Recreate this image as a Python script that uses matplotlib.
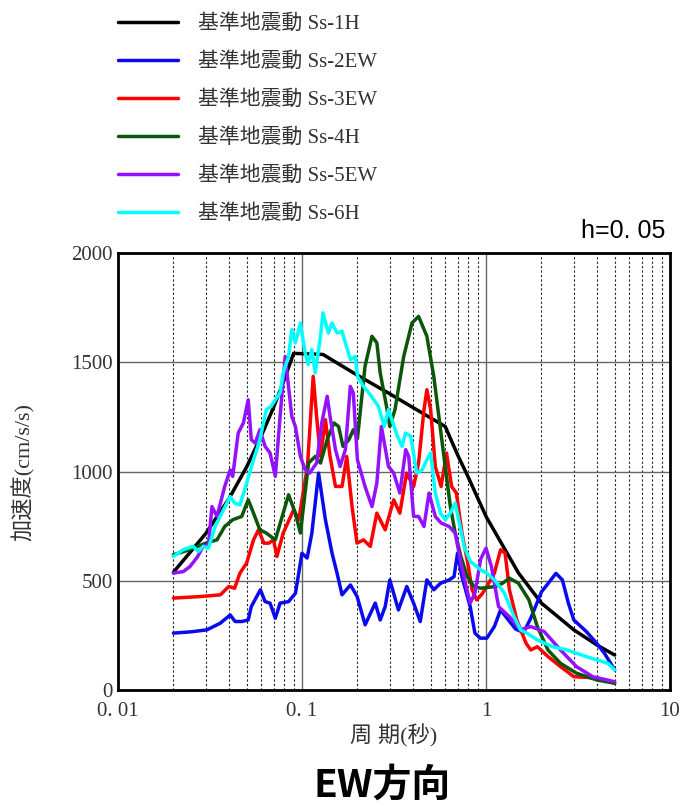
import matplotlib
matplotlib.use("Agg")
import matplotlib.pyplot as plt
from matplotlib.ticker import FixedLocator, FixedFormatter, LogLocator

# fonts: serif for numbers, CJK fallback for the Japanese glyphs
SERIF_JP = ["Liberation Serif", "Noto Sans CJK JP"]
SANS_JP = ["Noto Sans CJK JP", "DejaVu Sans"]

# Ss-1H (design spectrum)
T1 = [0.02, 0.03, 0.04, 0.05, 0.06, 0.07, 0.08, 0.09, 0.13, 0.2, 0.3, 0.4, 0.5, 0.6,
      0.7, 0.8, 1.0, 1.5, 2.0, 3.0, 4.0, 5.0]
A1 = [540, 717, 875, 1021, 1162, 1293, 1419, 1540, 1535, 1440, 1355, 1293, 1245, 1206,
      1077, 975, 795, 537, 399, 277, 208, 162]

# Ss-2EW
T2 = [0.02, 0.025, 0.0304, 0.0359, 0.0407, 0.0433, 0.047, 0.051, 0.053, 0.0594, 0.063,
      0.067, 0.0716, 0.076, 0.0845, 0.0921, 0.0999, 0.1066, 0.1131, 0.123, 0.134, 0.1456,
      0.155, 0.165, 0.1834, 0.1993, 0.2203, 0.25, 0.266, 0.283, 0.3, 0.334, 0.371, 0.404,
      0.439, 0.477, 0.52, 0.566, 0.63, 0.67, 0.70, 0.74, 0.82, 0.87, 0.93, 1.01, 1.11,
      1.2, 1.3, 1.45, 1.6, 1.75, 2.0, 2.4, 2.6, 2.8, 3.0, 3.5, 4.0, 4.4, 5.0]
A2 = [262, 268, 277, 307, 345, 315, 315, 322, 383, 460, 406,
      399, 330, 399, 406, 444, 627, 605, 719, 993, 780, 627,
      536, 437, 482, 429, 300, 399, 322, 383, 505, 368, 475, 399,
      315, 505, 460, 490, 505, 520, 627, 520, 383, 262, 239, 239, 292,
      368, 330, 280, 265, 330, 450, 535, 505, 400, 322, 270, 215, 170, 94]

# Ss-3EW
T3 = [0.02, 0.028, 0.036, 0.04, 0.043, 0.046, 0.05, 0.0545, 0.058, 0.062, 0.066, 0.07,
      0.073, 0.079, 0.09, 0.096, 0.107, 0.115, 0.12, 0.126, 0.134, 0.142, 0.152, 0.165,
      0.175, 0.187, 0.199, 0.216, 0.235, 0.255, 0.283, 0.315, 0.34, 0.37, 0.404, 0.43,
      0.46, 0.477, 0.50, 0.53, 0.57, 0.61, 0.65, 0.69, 0.74, 0.79, 0.84, 0.89, 0.95,
      1.01, 1.11, 1.2, 1.27, 1.34, 1.47, 1.65, 1.75, 1.9, 2.17, 2.54, 3.0, 4.0, 5.0]
A3 = [422, 429, 437, 475, 467, 536, 582, 688, 734, 673, 673, 688,
      612, 719, 825, 780, 1023, 1435, 1252, 1069, 1237, 1069, 932, 932,
      1069, 840, 673, 688, 658, 810, 734, 871, 810, 993, 932, 1039,
      1283, 1374, 1283, 1023, 932, 1085, 932, 902, 719, 597, 460, 414, 440,
      475, 536, 643, 627, 460, 322, 216, 185, 200, 155, 109, 63, 57, 33]

# Ss-4H
T4 = [0.02, 0.0245, 0.03, 0.0345, 0.038, 0.042, 0.047, 0.051, 0.0545, 0.059, 0.064,
      0.0716, 0.0845, 0.092, 0.098, 0.1085, 0.118, 0.126, 0.137, 0.149, 0.158, 0.167,
      0.18, 0.19, 0.2, 0.22, 0.24, 0.255, 0.266, 0.29, 0.3, 0.32, 0.357, 0.396, 0.43,
      0.477, 0.52, 0.566, 0.6, 0.64, 0.68, 0.73, 0.79, 0.86, 0.935, 1.13, 1.23, 1.34,
      1.5, 1.71, 1.9, 2.17, 2.54, 3.1, 4.0, 5.0]
A4 = [620, 643, 673, 688, 749, 780, 795, 871, 810, 734, 719,
      688, 894, 810, 719, 1039, 1069, 1039, 1146, 1222, 1206, 1115,
      1146, 1191, 1150, 1481, 1618, 1588, 1451, 1283, 1206, 1283, 1526, 1679, 1709,
      1618, 1435, 1191, 1023, 840, 719, 612, 520, 475, 467, 475, 490, 513,
      490, 414, 292, 185, 124, 79, 48, 33]

# Ss-5EW
T5 = [0.02, 0.0226, 0.0246, 0.027, 0.029, 0.031, 0.0324, 0.0345, 0.038, 0.0407, 0.042,
      0.045, 0.048, 0.051, 0.053, 0.0557, 0.059, 0.063, 0.067, 0.0716, 0.076, 0.081,
      0.088, 0.092, 0.098, 0.104, 0.11, 0.12, 0.128, 0.137, 0.142, 0.152, 0.161, 0.172,
      0.183, 0.19, 0.2, 0.22, 0.24, 0.255, 0.27, 0.295, 0.315, 0.34, 0.366, 0.38, 0.404,
      0.43, 0.46, 0.49, 0.53, 0.57, 0.63, 0.68, 0.73, 0.78, 0.82, 0.87, 0.935, 1.0, 1.07,
      1.17, 1.34, 1.54, 1.75, 2.07, 2.54, 3.1, 3.8, 5.0]
A5 = [536, 543, 566, 610, 658, 665, 840, 795, 932, 1008, 978,
      1176, 1222, 1328, 1146, 1130, 1191, 1115, 1085, 978, 1252, 1526,
      1252, 1206, 1069, 1008, 993, 1039, 1222, 1344, 1252, 1100, 1023, 1100,
      1389, 1359, 1054, 932, 840, 947, 1206, 1023, 993, 902, 1100, 1069, 795,
      795, 749, 902, 795, 765, 749, 719, 582, 475, 399, 444, 600, 650, 566,
      383, 337, 277, 292, 269, 185, 109, 63, 40]

# Ss-6H
T6 = [0.02, 0.0226, 0.0256, 0.0273, 0.029, 0.031, 0.0337, 0.0374, 0.0407, 0.043, 0.046,
      0.05, 0.0545, 0.059, 0.064, 0.068, 0.0716, 0.076, 0.079, 0.0845, 0.088, 0.092,
      0.098, 0.104, 0.108, 0.113, 0.118, 0.126, 0.13, 0.139, 0.1456, 0.155, 0.165, 0.172,
      0.1834, 0.195, 0.2, 0.216, 0.235, 0.26, 0.28, 0.295, 0.33, 0.35, 0.365, 0.39, 0.42,
      0.45, 0.477, 0.5, 0.53, 0.566, 0.6, 0.64, 0.68, 0.71, 0.76, 0.82, 0.935, 1.01,
      1.11, 1.26, 1.42, 1.54, 1.67, 1.9, 2.3, 2.75, 3.5, 4.6, 5.0]
A6 = [612, 643, 658, 635, 658, 650, 749, 825, 886, 856, 848,
      947, 1054, 1146, 1283, 1298, 1328, 1360, 1451, 1526, 1649, 1588,
      1679, 1542, 1489, 1557, 1451, 1618, 1725, 1633, 1679, 1633, 1641, 1588,
      1511, 1526, 1435, 1389, 1351, 1298, 1206, 1283, 1161, 1115, 1176, 1161, 993,
      1008, 1054, 1085, 902, 810, 780, 810, 856, 780, 658, 590, 551, 536,
      505, 444, 337, 277, 262, 231, 200, 185, 155, 124, 94]

SERIES = [
    ("基準地震動 Ss-1H", T1, A1, "#000000"),
    ("基準地震動 Ss-2EW", T2, A2, "#0a0aee"),
    ("基準地震動 Ss-3EW", T3, A3, "#ff0000"),
    ("基準地震動 Ss-4H", T4, A4, "#0b560b"),
    ("基準地震動 Ss-5EW", T5, A5, "#9412ff"),
    ("基準地震動 Ss-6H", T6, A6, "#00ffff"),
]

X_TICKS = [0.01, 0.1, 1, 10]
X_TICK_LABELS = ["0. 01", "0. 1", "1", "10"]
Y_TICKS = [0, 500, 1000, 1500, 2000]
Y_TICK_LABELS = ["0", "500", "1000", "1500", "2000"]

fig = plt.figure(figsize=(6.81, 8.07), dpi=100)
ax = fig.add_axes([0.1733, 0.1444, 0.8106, 0.5425])

handles = []
for label, t, a, color in SERIES:
    line, = ax.plot(t, a, color=color, lw=2.5, label=label, solid_capstyle="round")
    handles.append(line)

ax.set_xscale("log")
ax.set_xlim(0.01, 10)
ax.set_ylim(0, 2000)

# ticks and grid
ax.xaxis.set_major_locator(FixedLocator(X_TICKS))
ax.xaxis.set_major_formatter(FixedFormatter(X_TICK_LABELS))
ax.xaxis.set_minor_locator(LogLocator(base=10, subs=range(2, 10)))
ax.xaxis.set_minor_formatter(FixedFormatter([]))
ax.yaxis.set_major_locator(FixedLocator(Y_TICKS))
ax.yaxis.set_major_formatter(FixedFormatter(Y_TICK_LABELS))
ax.tick_params(which="both", length=0)
ax.tick_params(axis="x", pad=8)
ax.tick_params(axis="y", pad=4)
for lab in ax.get_xticklabels() + ax.get_yticklabels():
    lab.set_family(SERIF_JP)
    lab.set_fontsize(15)
    lab.set_color("#333333")

ax.grid(which="major", axis="both", color="#666666", lw=1.0)
ax.grid(which="minor", axis="x", color="#222222", lw=0.8, linestyle=(0, (2, 2)))
ax.set_axisbelow(True)
for sp in ax.spines.values():
    sp.set_linewidth(2)

ax.set_xlabel("周 期(秒)", fontsize=16, family=SERIF_JP, color="#333333")
ax.xaxis.set_label_coords(0.5, -0.077)
ax.set_ylabel("加速度(cm/s/s)", fontsize=16, family=SERIF_JP, color="#333333")
ax.yaxis.set_label_coords(-0.15, 0.5)

# legend above the plot
fig.legend(handles=handles, loc="upper left", bbox_to_anchor=(0.1733, 0.982),
           frameon=False, borderpad=0, borderaxespad=0, handlelength=2.9,
           handletextpad=0.95, labelspacing=0.88,
           prop={"family": SERIF_JP, "size": 15}, labelcolor="#333333")

fig.text(0.9765, 0.7138, "h=0. 05", ha="right", va="center", fontsize=18,
         family=["Liberation Sans", "DejaVu Sans"])
fig.text(0.561, 0.027, "EW方向", ha="center", va="center", fontsize=28,
         family=SANS_JP, weight="bold")

fig.savefig("out.png", dpi=100)
